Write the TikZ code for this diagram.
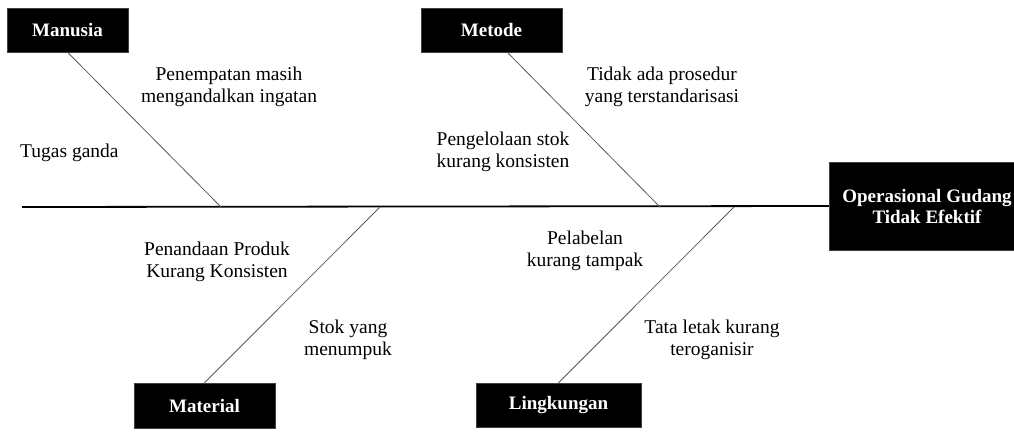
\documentclass[tikz,border=0pt]{standalone}
\usepackage{fontspec}
\setmainfont{Liberation Serif}
\tikzset{
  catbox/.style={draw=black!75, fill=black, text=white, inner sep=0pt,
    font=\bfseries\fontsize{19}{21}\selectfont, align=center},
  cause/.style={align=center, inner sep=0pt, font=\fontsize{19.5}{22.5}\selectfont},
  bone/.style={draw=black!65, line width=0.8pt},
  spine/.style={draw=black, line width=1.8pt},
}
\begin{document}
\begin{tikzpicture}[x=1pt, y=-1pt]
\useasboundingbox (0,0) rectangle (1014,434);
\clip (0,0) rectangle (1014,434);

% categories
\node[catbox, minimum width=121pt, minimum height=44pt] (manusia) at (67.5,30) {Manusia};
\node[catbox, minimum width=141pt, minimum height=44pt] (metode) at (491.5,30) {Metode};
\node[catbox, minimum width=141pt, minimum height=45pt] (material) at (204.5,405.5) {Material};
\node[catbox, minimum width=165pt, minimum height=44pt] (lingkungan) at (558.5,405) {Lingkungan};
\node[catbox, minimum width=196pt, minimum height=88pt] (efek) at (927,206) {Operasional Gudang\\Tidak Efektif};

% spine
\coordinate (tail) at (22,207);
\coordinate (s-manusia) at (221,207);
\coordinate (s-material) at (380,207);
\coordinate (s-metode) at (660,207);
\coordinate (s-lingkungan) at (734,207);
\coordinate (metode-top) at (507,52);
\path[spine] (tail) -- (efek.west);

% bones
\path[bone] (manusia.south) -- (s-manusia);
\path[bone] (metode-top) -- (s-metode);
\path[bone] (material.north) -- (s-material);
\path[bone] (lingkungan.north) -- (s-lingkungan);

% causes
\node[cause] (c-penempatan) at (229,87) {Penempatan masih\\mengandalkan ingatan};
\node[cause, anchor=west] (c-tugas) at (20,153) {Tugas ganda};
\node[cause] (c-prosedur) at (662,87) {Tidak ada prosedur\\yang terstandarisasi};
\node[cause] (c-stok) at (503,152) {Pengelolaan stok\\kurang konsisten};
\node[cause] (c-penandaan) at (217,262) {Penandaan Produk\\Kurang Konsisten};
\node[cause] (c-menumpuk) at (348,340) {Stok yang\\menumpuk};
\node[cause] (c-pelabelan) at (585,251) {Pelabelan\\kurang tampak};
\node[cause] (c-tataletak) at (712,340) {Tata letak kurang\\teroganisir};
\end{tikzpicture}
\end{document}
